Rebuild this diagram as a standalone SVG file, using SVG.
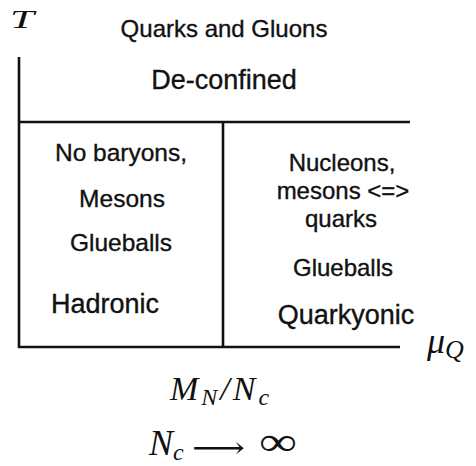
<svg xmlns="http://www.w3.org/2000/svg" width="476" height="466" viewBox="0 0 476 466">
<style>
.s{font-family:"Liberation Sans",Arial,sans-serif;fill:#111;text-anchor:middle;stroke:#111;stroke-width:0.35}
.m{font-family:"Liberation Serif","Times New Roman",serif;font-style:italic;fill:#111}
.ln{stroke:#111;stroke-width:2.6;fill:none}
</style>
<rect width="476" height="466" fill="#fff"/>
<g id="connectors">
<line class="ln" x1="19" y1="57" x2="19" y2="348"/>
<line class="ln" x1="19" y1="122" x2="410" y2="122"/>
<line class="ln" x1="223" y1="122" x2="223" y2="348"/>
<line class="ln" x1="18" y1="347" x2="400" y2="347"/>
</g>
<g id="axis-T"><text class="m" x="10" y="28" font-size="26" textLength="24" lengthAdjust="spacingAndGlyphs">T</text></g>
<g id="deconfined">
<text class="s" x="224" y="37" font-size="24">Quarks and Gluons</text>
<text class="s" x="224" y="89" font-size="27">De-confined</text>
</g>
<g id="hadronic">
<text class="s" x="121" y="161" font-size="24.5">No baryons,</text>
<text class="s" x="122" y="207" font-size="24.5">Mesons</text>
<text class="s" x="121" y="251" font-size="24.5">Glueballs</text>
<text class="s" x="105" y="313" font-size="27">Hadronic</text>
</g>
<g id="quarkyonic">
<text class="s" x="342" y="171" font-size="24">Nucleons,</text>
<text class="s" x="343" y="199" font-size="24">mesons &lt;=&gt;</text>
<text class="s" x="341" y="227" font-size="24">quarks</text>
<text class="s" x="343" y="276" font-size="24">Glueballs</text>
<text class="s" x="346" y="324" font-size="27">Quarkyonic</text>
</g>
<g id="axis-mu"><text class="m" x="427" y="353" font-size="36">μ<tspan font-size="26" dy="5">Q</tspan></text></g>
<g id="scale">
<text class="m" x="170" y="400" font-size="34" letter-spacing="3">M<tspan font-size="24" dy="5">N</tspan><tspan font-size="34" dy="-5">/N</tspan><tspan font-size="24" dy="5">c</tspan></text>
</g>
<g id="limit">
<text class="m" x="149" y="455" font-size="36">N<tspan font-size="24" dy="5">c</tspan></text>
<text x="192" y="458" font-family="DejaVu Serif,serif" font-size="30" fill="#111" textLength="53" lengthAdjust="spacingAndGlyphs">⟶</text>
<text x="259" y="455" font-family="Liberation Serif,serif" font-size="40" fill="#111" textLength="38" lengthAdjust="spacingAndGlyphs">∞</text>
</g>
</svg>
